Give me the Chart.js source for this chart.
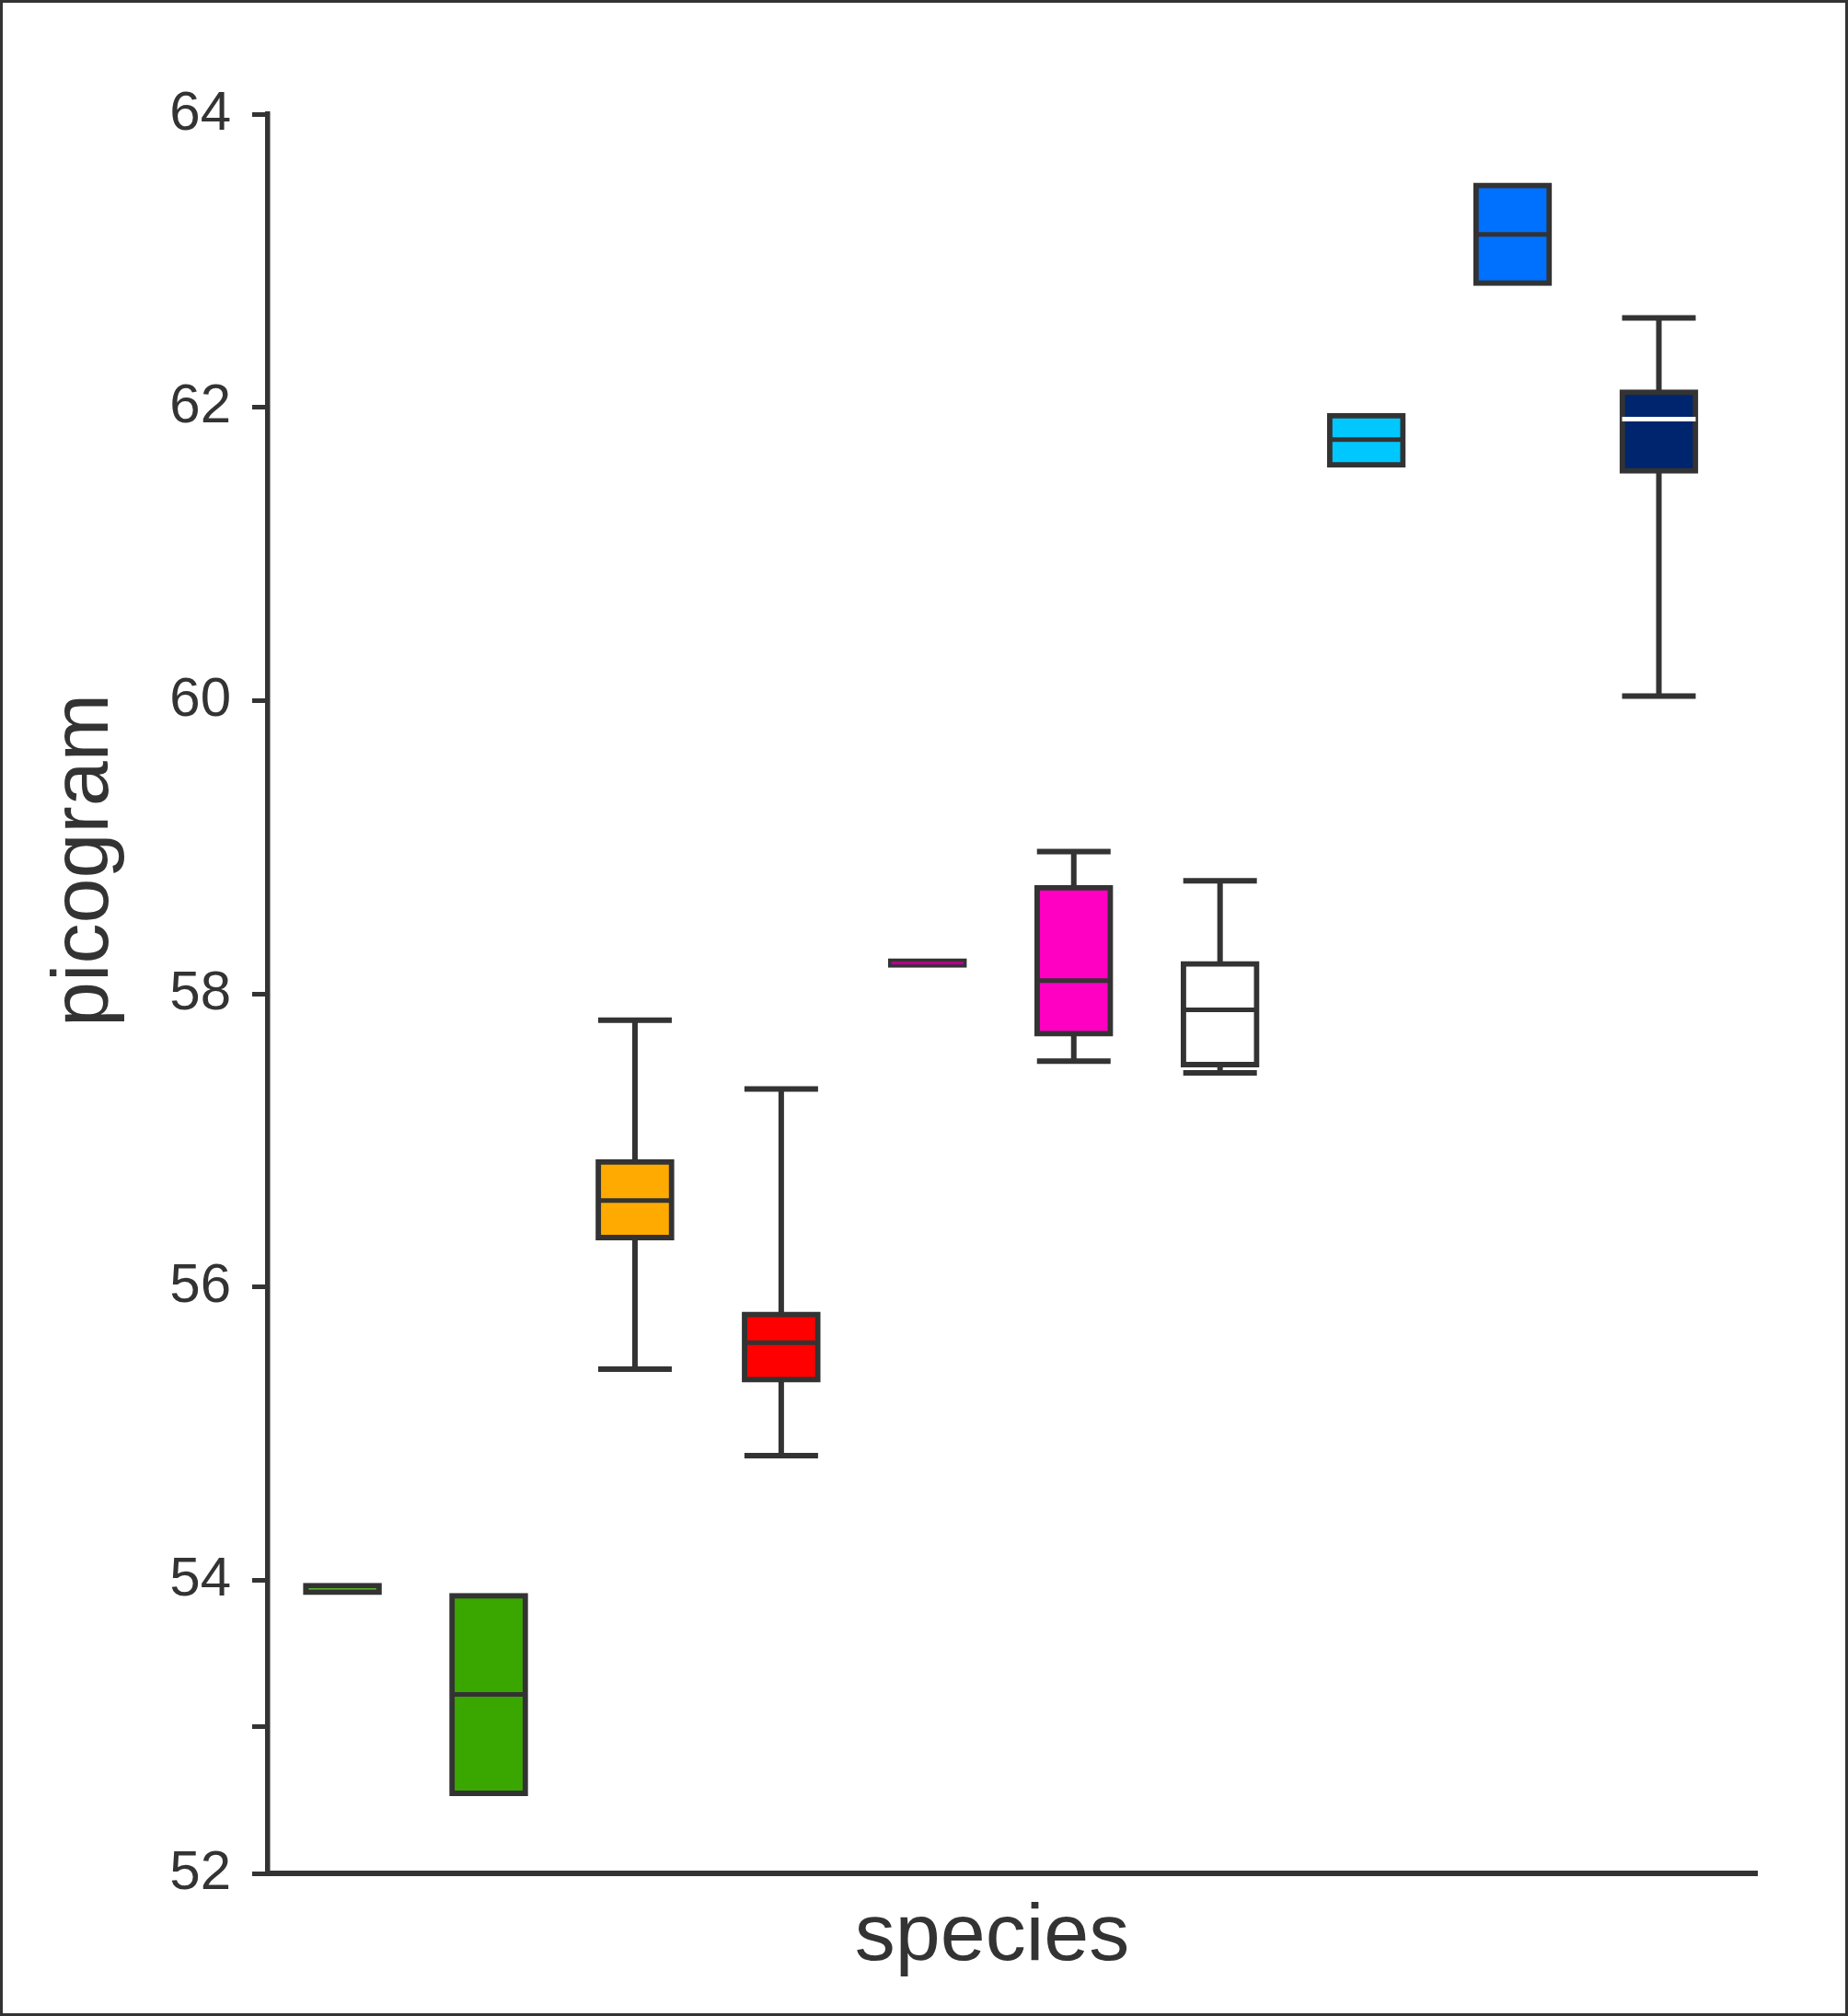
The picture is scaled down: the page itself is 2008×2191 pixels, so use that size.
<!DOCTYPE html>
<html>
<head>
<meta charset="utf-8">
<script src="https://cdn.jsdelivr.net/npm/chart.js@4.4.1/dist/chart.umd.min.js"></script>
<style>
  html, body { margin: 0; padding: 0; background: #fff; }
  #wrap { width: 2008px; height: 2191px; }
</style>
</head>
<body>
<div id="wrap"><canvas id="chart" width="2008" height="2191"></canvas></div>
<script>
// species positions along x (one box each)
const positions = [1, 2, 3, 4, 5, 6, 7, 8, 9, 10];
// quartiles, medians and whiskers (picogram)
const boxLow      = [53.90, 52.53, 56.32, 55.35, 58.18, 57.71, 57.50, 61.59, 62.83, 61.55];
const boxHigh     = [53.98, 53.91, 56.87, 55.83, 58.24, 58.74, 58.22, 61.96, 63.53, 62.12];
const medians     = [53.94, 53.22, 56.59, 55.62, 58.21, 58.09, 57.89, 61.78, 63.18, 61.92];
const whiskerLow  = [null, null, 55.44, 54.85, null, 57.54, 57.46, null, null, 60.03];
const whiskerHigh = [null, null, 57.82, 57.35, null, 58.97, 58.77, null, null, 62.61];

const fillColors   = ['#5ccc1a', '#3aa700', '#ffaa00', '#ff0000', '#b3008a', '#ff00c3', '#ffffff', '#00c8ff', '#0070ff', '#00256f'];
const medianColors = [null, '#333333', '#333333', '#333333', null, '#333333', '#333333', '#333333', '#333333', '#ffffff'];

const yTickValues = [52, 53, 54, 56, 58, 60, 62, 64];
const yTickLabels = ['52', '', '54', '56', '58', '60', '62', '64'];

const ink = '#333333';
const fontFamily = '"Liberation Sans", Arial, sans-serif';

// whiskers behind the boxes, medians on top, titles and frame
const boxPlotParts = {
  id: 'boxPlotParts',
  beforeDraw(chart) {
    const ctx = chart.ctx;
    ctx.save();
    ctx.strokeStyle = ink;
    ctx.lineWidth = 3;
    ctx.strokeRect(1.5, 1.5, chart.width - 3, chart.height - 3);
    ctx.restore();
  },
  beforeDatasetsDraw(chart) {
    const { ctx, scales: { x, y } } = chart;
    ctx.save();
    ctx.strokeStyle = ink;
    ctx.lineWidth = 6;
    positions.forEach((p, i) => {
      if (whiskerLow[i] === null) return;
      const cx = x.getPixelForValue(p);
      const yLo = y.getPixelForValue(whiskerLow[i]);
      const yHi = y.getPixelForValue(whiskerHigh[i]);
      ctx.beginPath();
      ctx.moveTo(cx, yLo);
      ctx.lineTo(cx, yHi);
      ctx.moveTo(cx - 40, yLo);
      ctx.lineTo(cx + 40, yLo);
      ctx.moveTo(cx - 40, yHi);
      ctx.lineTo(cx + 40, yHi);
      ctx.stroke();
    });
    ctx.restore();
  },
  afterDatasetsDraw(chart) {
    const { ctx, scales: { x, y } } = chart;
    ctx.save();
    ctx.lineWidth = 5;
    positions.forEach((p, i) => {
      if (!medianColors[i]) return;
      const cx = x.getPixelForValue(p);
      const my = y.getPixelForValue(medians[i]);
      ctx.strokeStyle = medianColors[i];
      ctx.beginPath();
      ctx.moveTo(cx - 40, my);
      ctx.lineTo(cx + 40, my);
      ctx.stroke();
    });
    ctx.restore();
  },
  afterDraw(chart) {
    const { ctx, chartArea } = chart;
    ctx.save();
    ctx.fillStyle = ink;
    ctx.font = '88px ' + fontFamily;
    ctx.textAlign = 'center';
    ctx.textBaseline = 'alphabetic';
    ctx.fillText('species', (chartArea.left + chartArea.right) / 2 - 22, chartArea.bottom + 94);
    ctx.translate(chartArea.left - 174, chartArea.top + 811);
    ctx.rotate(-Math.PI / 2);
    ctx.fillText('picogram', 0, 0);
    ctx.restore();
  }
};

new Chart(document.getElementById('chart'), {
  type: 'bar',
  data: {
    datasets: [{
      data: positions.map((p, i) => ({ x: p, y: [boxLow[i], boxHigh[i]] })),
      backgroundColor: fillColors,
      borderColor: ink,
      borderWidth: [6, 6, 6, 6, 3.5, 6, 6, 6, 6, 6],
      borderSkipped: false,
      barThickness: 85
    }]
  },
  options: {
    responsive: false,
    animation: false,
    devicePixelRatio: 1,
    layout: { padding: { left: 0, top: 124, right: 99, bottom: 155 } },
    plugins: {
      legend: { display: false },
      tooltip: { enabled: false }
    },
    scales: {
      x: {
        type: 'linear',
        offset: false,
        min: 0.49,
        max: 10.67,
        grid: { display: false, offset: false },
        border: { display: true, color: ink, width: 6 },
        ticks: { display: false },
        afterFit(scale) { scale.height = 0; }
      },
      y: {
        min: 52,
        max: 64,
        afterBuildTicks(scale) {
          scale.ticks = yTickValues.map(v => ({ value: v }));
        },
        ticks: {
          color: ink,
          padding: 23,
          font: { family: fontFamily, size: 60 },
          callback: value => yTickLabels[yTickValues.indexOf(value)]
        },
        grid: { drawOnChartArea: false, drawTicks: true, tickLength: 17, lineWidth: 5, color: ink },
        border: { display: true, color: ink, width: 5.5 },
        afterFit(scale) { scale.width = 291; }
      }
    }
  },
  plugins: [boxPlotParts]
});
</script>
</body>
</html>
